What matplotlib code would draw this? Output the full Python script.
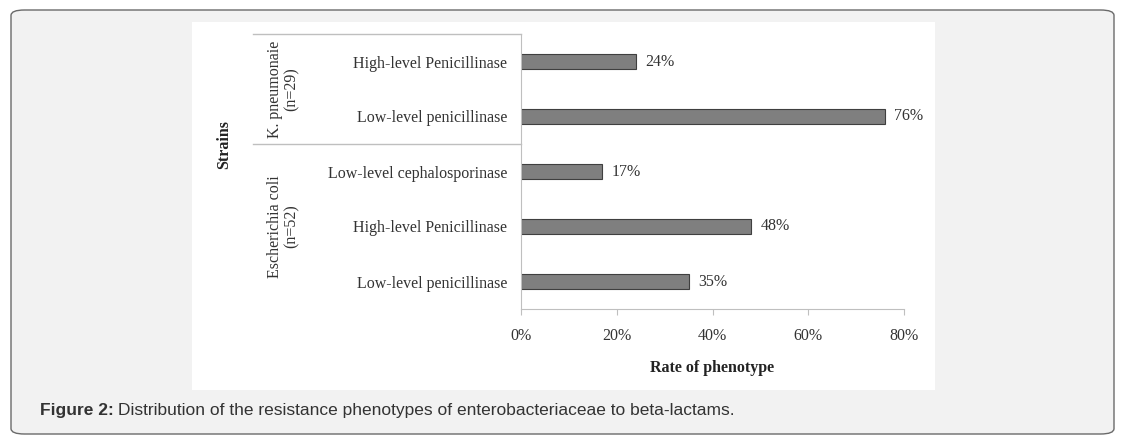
import matplotlib.pyplot as plt
import matplotlib.transforms as mtransforms
from matplotlib.patches import FancyBboxPatch, Rectangle
from matplotlib.lines import Line2D

# bars from bottom to top
phenotypes = ["Low-level penicillinase", "High-level Penicillinase",
              "Low-level cephalosporinase", "Low-level penicillinase",
              "High-level Penicillinase"]
rates = [0.35, 0.48, 0.17, 0.76, 0.24]
rate_labels = ["35%", "48%", "17%", "76%", "24%"]
groups = ["Escherichia coli\n(n=52)", "K. pneumonaie\n(n=29)"]
group_sizes = [3, 2]
xticks = [0, 0.2, 0.4, 0.6, 0.8]
xtick_labels = ["0%", "20%", "40%", "60%", "80%"]

W, H = 1124, 446
fig = plt.figure(figsize=(W / 100, H / 100), dpi=100)
fig.patch.set_facecolor("white")

def fx(px):
    return px / W

def fy(py):
    return 1 - py / H

# outer rounded frame and white chart panel (behind the axes)
frame = FancyBboxPatch((fx(11), fy(434)), fx(1103), (433 - 9) / H,
                       boxstyle="round,pad=0,rounding_size=0.012",
                       transform=fig.transFigure, facecolor="#f2f2f2",
                       edgecolor="#6a6a6a", linewidth=1.0, zorder=-2)
fig.add_artist(frame)
fig.add_artist(Rectangle((fx(192), fy(390)), fx(935 - 192), (390 - 22) / H,
                         transform=fig.transFigure, facecolor="white",
                         edgecolor="none", zorder=-1))

serif = "Liberation Serif"
fs = 11.5
ax = fig.add_axes([fx(521), fy(309), fx(904 - 521), (309 - 34) / H])
ax.set_facecolor("none")
y = range(len(rates))
ax.barh(y, rates, height=0.27, color="#7f7f7f", edgecolor="#3f3f3f", linewidth=0.8)
for yi, r, lab in zip(y, rates, rate_labels):
    ax.text(r + 0.02, yi, lab, va="center", ha="left", family=serif,
            fontsize=fs, color="#333333")

ax.set_xlim(0, 0.8)
ax.set_ylim(-0.5, len(rates) - 0.5)
ax.set_xticks(xticks)
ax.set_xticklabels(xtick_labels, family=serif, fontsize=fs, color="#333333")
ax.set_yticks(list(y))
ax.set_yticklabels(phenotypes, family=serif, fontsize=fs, color="#333333")
ax.tick_params(axis="y", length=0, pad=10)
ax.tick_params(axis="x", length=4, color="#bfbfbf", pad=10)
for s in ["top", "right"]:
    ax.spines[s].set_visible(False)
ax.spines["left"].set_color("#bfbfbf")
ax.spines["bottom"].set_color("#bfbfbf")
ax.set_xlabel("Rate of phenotype", family=serif, fontsize=fs,
              fontweight="bold", labelpad=11, color="#222222")

# group brackets on the left
trans = mtransforms.blended_transform_factory(fig.transFigure, ax.transData)
start = -0.5
for g, n in zip(groups, group_sizes):
    end = start + n
    fig.add_artist(Line2D([fx(253), fx(521)], [end, end], transform=trans,
                          color="#bfbfbf", linewidth=1.0))
    fig.text(fx(283), (start + end) / 2, g, transform=trans, rotation=90,
             ha="center", va="center", family=serif, fontsize=fs,
             color="#333333", linespacing=1.05)
    start = end

fig.text(fx(224), fy(145), "Strains", rotation=90, ha="center", va="center",
         family=serif, fontsize=fs, fontweight="bold", color="#222222")

# caption
cap1 = fig.text(fx(40), fy(411), "Figure 2:", ha="left", va="center",
                family="Liberation Sans", fontsize=12.5, fontweight="bold",
                color="#333333")
fig.canvas.draw()
bb = cap1.get_window_extent()
fig.text((bb.x1 + 4) / W, fy(411),
         "Distribution of the resistance phenotypes of enterobacteriaceae to beta-lactams.",
         ha="left", va="center", family="Liberation Sans", fontsize=12.5,
         color="#333333")

fig.savefig("out.png", dpi=100)
